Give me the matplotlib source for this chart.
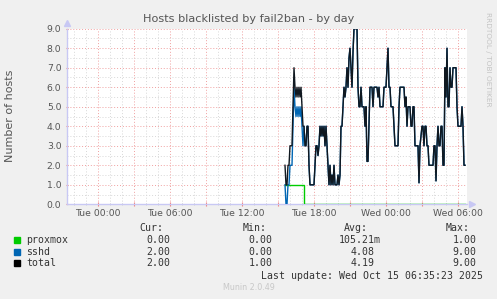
import matplotlib
matplotlib.use('Agg')
import matplotlib.pyplot as plt
import matplotlib.dates as mdates
from matplotlib.patches import Rectangle
from matplotlib.ticker import MultipleLocator, FuncFormatter
import numpy as np
import pandas as pd

W, H = 497, 299

# 5 minute samples, Tue 15:35 -> Wed 06:35
start = '2025-10-14 15:35'
step = '5min'
sshd = [1, 0, 0, 1, 1, 2, 2, 2, 4, 6, 5, 4.5, 5, 4.5, 5, 4.5, 5, 4, 3,
        4, 3, 3, 4, 4, 2, 1, 1, 1, 1,
        1, 2, 3, 3, 2.5, 3, 4, 3.5, 4, 3.5,
        4, 3, 4, 3, 2, 1, 2, 1, 1.5, 1,
        2, 1, 1, 1, 1.5, 1, 1.5, 4, 4, 5,
        6, 5.5, 6, 7, 6, 7.5, 8, 7, 6, 7.8,
        9, 9, 9, 9, 6, 5, 5, 6, 5, 5,
        5, 4, 5, 2.2, 2.2, 4, 6, 6, 6, 5,
        6, 6, 6, 6, 5.5, 6, 5, 5, 5, 5,
        6, 6, 6, 7, 8, 6, 6, 5, 5, 5,
        4, 3, 3, 3, 3, 5, 6, 6, 6, 6,
        6, 5, 5.5, 4, 5, 5, 5, 4, 4, 5,
        5, 3, 3, 3, 3, 1.1, 3, 3.5, 4, 4,
        3, 4, 4, 3, 3, 2, 2, 2, 2, 2,
        3, 3, 1.2, 3, 4, 3, 3, 4, 4, 2,
        2, 7, 5.5, 8, 5, 5, 7, 6, 6, 7,
        7, 7, 7, 5, 4, 4, 4, 4, 5, 4,
        2, 2]
proxmox = [1] * 19 + [0] * 162

names = ['proxmox', 'sshd', 'total']
colors = ['#00CC00', '#0066B3', '#000000']
cur = ['0.00', '2.00', '2.00']
mins = ['0.00', '0.00', '1.00']
avgs = ['105.21m', '4.08', '4.19']
maxs = ['1.00', '9.00', '9.00']

times = pd.date_range(start, periods=len(sshd), freq=step)
total = np.array(sshd) + np.array(proxmox)

fig = plt.figure(figsize=(W / 100, H / 100), dpi=100, facecolor='#F0F0F0')
ax = fig.add_axes([67 / W, 1 - 204.3 / H, 400 / W, 175.6 / H])
ax.set_facecolor('white')

ax.plot(times, proxmox, color=colors[0], lw=1.0, drawstyle='steps-post', zorder=3)
ax.plot(times, sshd, color=colors[1], lw=1.0, zorder=3)
ax.plot(times, total, color='#101820', lw=1.0, zorder=3)

ax.set_xlim(pd.Timestamp('2025-10-13 21:25'), pd.Timestamp('2025-10-15 06:45'))
ax.set_ylim(0, 9)

ax.xaxis.set_major_locator(mdates.HourLocator(byhour=range(0, 24, 3)))
ax.xaxis.set_minor_locator(mdates.HourLocator())
ax.xaxis.set_major_formatter(FuncFormatter(
    lambda v, p: mdates.num2date(v).strftime('%a %H:%M') if mdates.num2date(v).hour % 6 == 0 else ''))
ax.yaxis.set_major_locator(MultipleLocator(1))
ax.yaxis.set_minor_locator(MultipleLocator(0.5))
ax.yaxis.set_major_formatter(FuncFormatter(lambda v, p: '%.1f' % v))

ax.grid(which='minor', color='#D8D8D8', ls=(0, (1, 2)), lw=0.7)
ax.grid(which='major', color='#F0A0A0', ls=(0, (1, 2)), lw=0.7)

for s in ['top', 'right']:
    ax.spines[s].set_visible(False)
for s in ['left', 'bottom']:
    ax.spines[s].set_color('#C8C8F4')
    ax.spines[s].set_linewidth(1)

ax.tick_params(axis='x', which='major', length=3, direction='inout', color='#F08080',
               labelsize=6.7, labelcolor='#555555', pad=2)
ax.tick_params(axis='x', which='minor', length=2, direction='inout', color='#CCCCCC')
ax.tick_params(axis='y', which='major', length=2, direction='inout', color='#F08080',
               labelsize=6.7, labelcolor='#555555', pad=3)
ax.tick_params(axis='y', which='minor', length=0)

ax.plot([0], [1.03], marker='^', ms=4, color='#C8C8F4', transform=ax.transAxes, clip_on=False)
ax.plot([1.012], [0], marker='>', ms=4, color='#C8C8F4', transform=ax.transAxes, clip_on=False)


def px(x, y):
    return x / W, 1 - y / H


fig.text(*px(248.5, 19.3), 'Hosts blacklisted by fail2ban - by day', ha='center', va='center',
         fontsize=8.1, color='#555555')
fig.text(*px(10, 116), 'Number of hosts', rotation=90, ha='center', va='center',
         fontsize=8, color='#555555')
fig.text(*px(488, 12), 'RRDTOOL / TOBI OETIKER', rotation=270, ha='center', va='top',
         fontsize=5.3, color='#C4C4C4')

mono = dict(family='DejaVu Sans Mono', fontsize=7.1, color='#333333', va='center')
cw = 5.96
hdr_y = 227.7
for lab, xr in zip(['Cur:', 'Min:', 'Avg:', 'Max:'], [163, 266.7, 368.3, 470]):
    fig.text(*px(xr, hdr_y), lab, ha='right', **mono)

rows_y = [240, 252, 263.3]
for i, y in enumerate(rows_y):
    fig.add_artist(Rectangle(px(14, y + 3), 6 / W, 6 / H, transform=fig.transFigure,
                             color=colors[i]))
    fig.text(*px(26.3, y), names[i], ha='left', **mono)
    for s, xr in zip([cur[i], mins[i], avgs[i], maxs[i]], [170, 272.7, 375, 476.7]):
        if s[-1].isalpha():
            xr += cw
        fig.text(*px(xr, y), s, ha='right', **mono)

fig.text(*px(482.7, 275.7), 'Last update: Wed Oct 15 06:35:23 2025', ha='right', **mono)
fig.text(*px(248.8, 288), 'Munin 2.0.49', ha='center', va='center', fontsize=5.8, color='#C8C8C8')

fig.savefig('out.png', dpi=100, facecolor=fig.get_facecolor())
